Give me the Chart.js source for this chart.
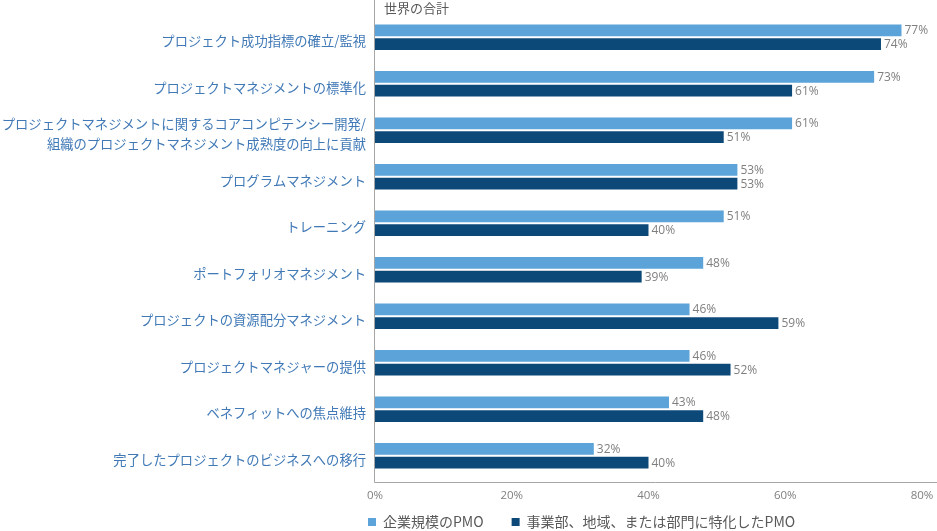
<!DOCTYPE html>
<html><head><meta charset="utf-8">
<script src="https://cdn.jsdelivr.net/npm/chart.js@4"></script>
<style>html,body{margin:0;padding:0;background:#fff;} #wrap{width:937px;height:531px;}</style>
</head><body><div id="wrap"><canvas id="c" width="937" height="531"></canvas></div>
<script>
const categories = [
  'プロジェクト成功指標の確立/監視',
  'プロジェクトマネジメントの標準化',
  ['プロジェクトマネジメントに関するコアコンピテンシー開発/', '組織のプロジェクトマネジメント成熟度の向上に貢献'],
  'プログラムマネジメント',
  'トレーニング',
  'ポートフォリオマネジメント',
  'プロジェクトの資源配分マネジメント',
  'プロジェクトマネジャーの提供',
  'ベネフィットへの焦点維持',
  '完了したプロジェクトのビジネスへの移行'
];
const enterprisePMO = [77, 73, 61, 53, 51, 48, 46, 46, 43, 32];
const departmentalPMO = [74, 61, 51, 53, 40, 39, 59, 52, 48, 40];
const seriesNames = ['企業規模のPMO', '事業部、地域、または部門に特化したPMO'];
const xTicks = [0, 20, 40, 60, 80];
const chartTitle = '世界の合計';

const JP = '"Noto Sans CJK JP", "Noto Sans", sans-serif';
const LAT = '"Open Sans", "Noto Sans", sans-serif';

const decorPlugin = {
  id: 'decor',
  beforeDatasetsDraw(chart) {
    const {ctx, chartArea} = chart;
    ctx.save();
    ctx.strokeStyle = '#a6a6a6';
    ctx.lineWidth = 1;
    ctx.beginPath();
    const lx = Math.round(chartArea.left) - 0.5;
    const by = Math.round(chartArea.bottom) + 3.5;
    ctx.moveTo(lx, 0);
    ctx.lineTo(lx, by);
    ctx.moveTo(lx, by);
    ctx.lineTo(chart.width, by);
    ctx.stroke();
    ctx.restore();
  },
  afterDatasetsDraw(chart) {
    const {ctx, chartArea} = chart;
    ctx.save();
    ctx.font = '12px ' + LAT;
    ctx.fillStyle = '#7f7f7f';
    ctx.textBaseline = 'middle';
    ctx.textAlign = 'left';
    chart.data.datasets.forEach((ds, di) => {
      const meta = chart.getDatasetMeta(di);
      meta.data.forEach((el, i) => {
        ctx.fillText(ds.data[i] + '%', el.x + 3, el.y + 0.5);
      });
    });
    ctx.font = '13px ' + JP;
    ctx.fillStyle = '#595959';
    ctx.fillText(chartTitle, chartArea.left + 9, 8);
    ctx.font = '14px ' + JP;
    let x = 368;
    const y = 522;
    chart.data.datasets.forEach((ds) => {
      ctx.fillStyle = ds.backgroundColor;
      ctx.fillRect(x, y - 4, 8, 8);
      ctx.fillStyle = '#595959';
      ctx.fillText(ds.label, x + 15, y);
      x += 15 + ctx.measureText(ds.label).width + 28;
    });
    ctx.restore();
  }
};

new Chart(document.getElementById('c'), {
  type: 'bar',
  data: {
    labels: categories,
    datasets: [
      { label: seriesNames[0], data: enterprisePMO, backgroundColor: '#5ba3d9',
        categoryPercentage: 0.596, barPercentage: 0.845 },
      { label: seriesNames[1], data: departmentalPMO, backgroundColor: '#0c4979',
        categoryPercentage: 0.596, barPercentage: 0.845 }
    ]
  },
  options: {
    indexAxis: 'y',
    responsive: false,
    devicePixelRatio: 1,
    animation: false,
    layout: { padding: { top: 14, right: 15, left: 0, bottom: 0 } },
    plugins: { legend: { display: false }, tooltip: { enabled: false }, title: { display: false } },
    scales: {
      y: {
        type: 'category',
        grid: { display: false, drawTicks: false },
        border: { display: false },
        afterFit(s) { s.width = 375; s.paddingTop = 0; s.paddingBottom = 0; },
        ticks: {
          color: '#4079b6',
          padding: 9,
          labelOffset: 4,
          font: { family: JP, size: 13.3, lineHeight: 1.5 }
        }
      },
      x: {
        type: 'linear',
        min: 0, max: 80,
        grid: { display: false, drawTicks: false },
        border: { display: false },
        afterFit(s) { s.height = 52; s.paddingLeft = 0; s.paddingRight = 0; },
        afterBuildTicks(s) { s.ticks = xTicks.map(v => ({ value: v })); },
        ticks: {
          color: '#7f7f7f',
          padding: 10,
          font: { family: LAT, size: 11.5 },
          callback: v => v + '%'
        }
      }
    }
  },
  plugins: [decorPlugin]
});
</script>
</body></html>
